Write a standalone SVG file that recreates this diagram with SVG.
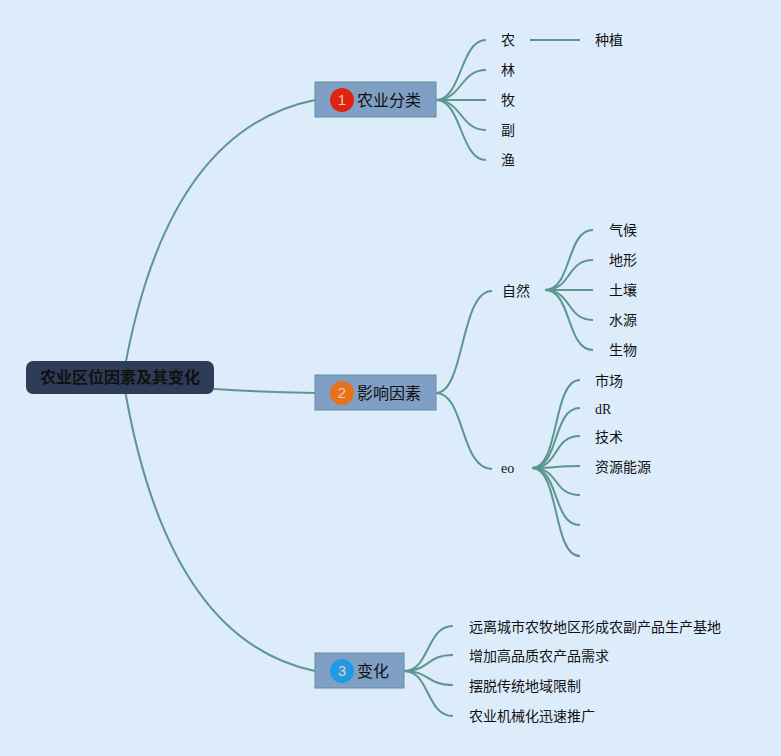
<svg xmlns="http://www.w3.org/2000/svg" width="781" height="756" viewBox="0 0 781 756">
<style>
.bg{fill:#ddecfb}
.c{fill:none;stroke:#5b968f;stroke-width:2}
.box{fill:#809fc4;stroke:#5f8f96;stroke-width:1}
.t{font-family:"Liberation Sans","Noto Sans CJK SC",sans-serif;font-size:14px;fill:#111}
.n{font-family:"Liberation Sans","Noto Sans CJK SC",sans-serif;font-size:16px;fill:#111}
.num{font-family:"Liberation Sans",sans-serif;font-size:15px;fill:#f2c9c0;text-anchor:middle}
.root{font-family:"Noto Sans CJK SC",sans-serif;font-size:16px;font-weight:bold;fill:#111;text-anchor:middle}
</style>
<rect class="bg" x="0" y="0" width="781" height="756"/>
<g id="connectors">
<path class="c" d="M123,378 Q165,130 315,100"/>
<path class="c" d="M214,389 Q260,392 315,393"/>
<path class="c" d="M123,378 Q165,640 315,671"/>
<path class="c" d="M436,100 C462,100 460,40 486,40"/>
<path class="c" d="M436,100 C462,100 460,70 486,70"/>
<path class="c" d="M436,100 L486,100"/>
<path class="c" d="M436,100 C462,100 460,130 486,130"/>
<path class="c" d="M436,100 C462,100 460,160 486,160"/>
<path class="c" d="M530,40 L580,40"/>
<path class="c" d="M436,393 C465,393 460,291 492,291"/>
<path class="c" d="M436,393 C465,393 460,469 492,469"/>
<path class="c" d="M545,290 C572,290 566,230 593,230"/>
<path class="c" d="M545,290 C572,290 566,260 593,260"/>
<path class="c" d="M545,290 L593,290"/>
<path class="c" d="M545,290 C572,290 566,320 593,320"/>
<path class="c" d="M545,290 C572,290 566,350 593,350"/>
<path class="c" d="M532,468 C560,468 552,380 580,380"/>
<path class="c" d="M532,468 C560,468 552,408 580,408"/>
<path class="c" d="M532,468 C560,468 552,436 580,436"/>
<path class="c" d="M532,468 C560,468 552,466 580,466"/>
<path class="c" d="M532,468 C560,468 552,495 580,495"/>
<path class="c" d="M532,468 C560,468 552,525 580,525"/>
<path class="c" d="M532,468 C560,468 552,556 580,556"/>
<path class="c" d="M404,671 C430,671 426,626 453,626"/>
<path class="c" d="M404,671 C430,671 426,655 453,655"/>
<path class="c" d="M404,671 C430,671 426,685 453,685"/>
<path class="c" d="M404,671 C430,671 426,716 453,716"/>
</g>
<g id="root">
<rect x="26" y="361" width="188" height="33" rx="7" fill="#2e3c57"/>
<text class="root" x="120" y="383">农业区位因素及其变化</text>
</g>
<g id="n1">
<rect class="box" x="315" y="82" width="121" height="35"/>
<circle cx="342" cy="100" r="12" fill="#e0230f"/>
<text class="num" x="342" y="105">1</text>
<text class="n" x="357" y="106">农业分类</text>
</g>
<g id="n2">
<rect class="box" x="315" y="375" width="121" height="35"/>
<circle cx="342" cy="393" r="12" fill="#e8711c"/>
<text class="num" x="342" y="398">2</text>
<text class="n" x="357" y="399">影响因素</text>
</g>
<g id="n3">
<rect class="box" x="315" y="653" width="89" height="35"/>
<circle cx="342" cy="671" r="12" fill="#1f9be3"/>
<text class="num" x="342" y="676">3</text>
<text class="n" x="357" y="677">变化</text>
</g>
<g id="n1-children">
<text class="t" x="501" y="45">农</text>
<text class="t" x="501" y="75">林</text>
<text class="t" x="501" y="105">牧</text>
<text class="t" x="501" y="135">副</text>
<text class="t" x="501" y="165">渔</text>
<text class="t" x="595" y="45">种植</text>
</g>
<g id="ziran">
<text class="t" x="502" y="296">自然</text>
<text class="t" x="609" y="235">气候</text>
<text class="t" x="609" y="265">地形</text>
<text class="t" x="609" y="295">土壤</text>
<text class="t" x="609" y="325">水源</text>
<text class="t" x="609" y="355">生物</text>
</g>
<g id="eo">
<text class="t" x="501" y="473" style="font-family:'Liberation Serif',serif">eo</text>
<text class="t" x="595" y="386">市场</text>
<text class="t" x="595" y="414" style="font-family:'Liberation Serif',serif">dR</text>
<text class="t" x="595" y="442">技术</text>
<text class="t" x="595" y="472">资源能源</text>
</g>
<g id="n3-children">
<text class="t" x="469" y="632">远离城市农牧地区形成农副产品生产基地</text>
<text class="t" x="469" y="661">增加高品质农产品需求</text>
<text class="t" x="469" y="691">摆脱传统地域限制</text>
<text class="t" x="469" y="721">农业机械化迅速推广</text>
</g>
</svg>
